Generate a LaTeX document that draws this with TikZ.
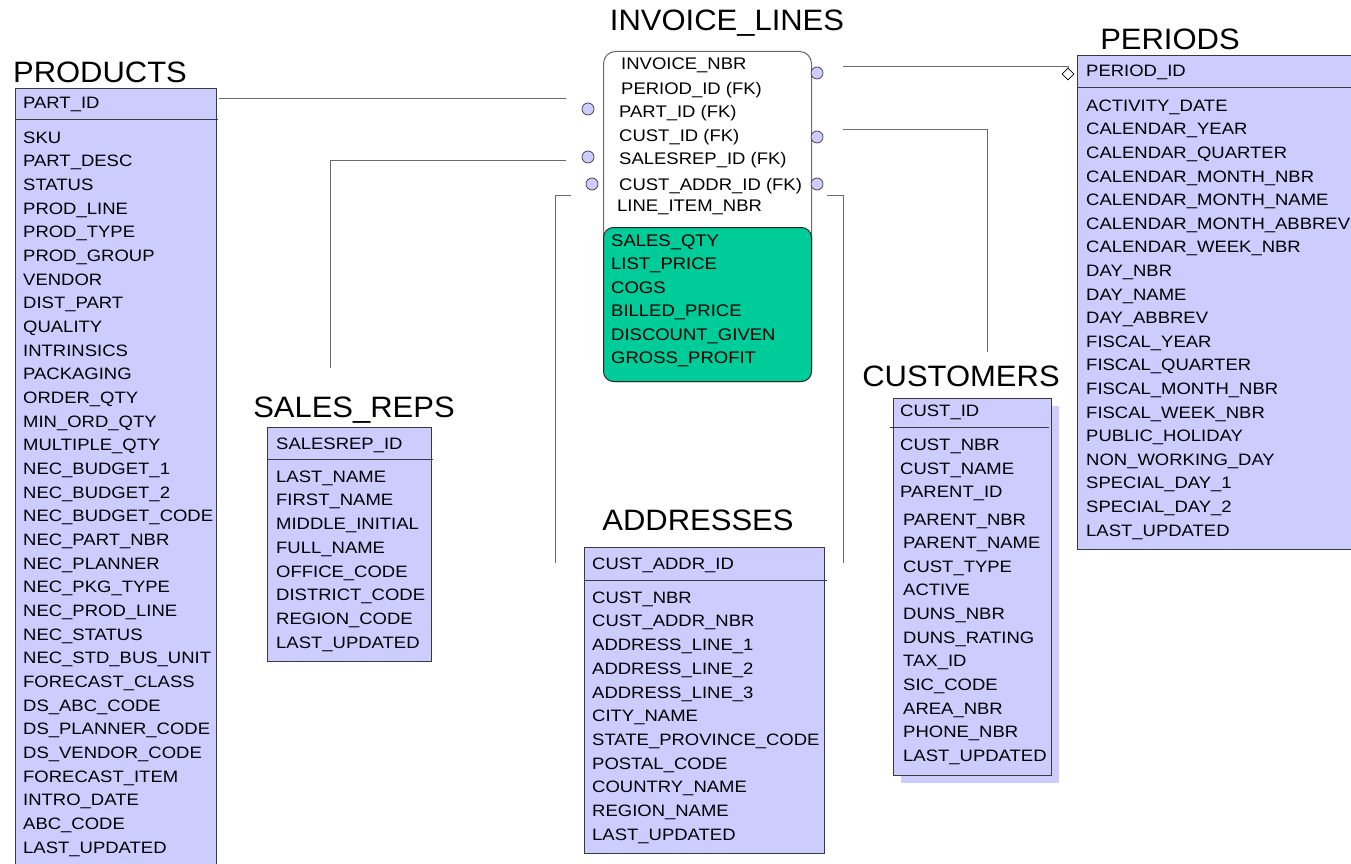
\documentclass[tikz,border=0pt]{standalone}
\usepackage{fontspec}
\setmainfont{Liberation Sans}[FakeStretch=1.12]
\newfontfamily\plainfont{Liberation Sans}[FakeStretch=1.1]
\newfontfamily\titlefont{Liberation Sans}[FakeStretch=1.05]
\usetikzlibrary{shapes.geometric}
\definecolor{lav}{HTML}{CCCCFF}
\definecolor{grn}{HTML}{00CC99}
\definecolor{edge}{HTML}{3A3A3A}
\definecolor{wire}{HTML}{6A6A6A}

\begin{document}
\begin{tikzpicture}[x=1pt,y=-1pt,
  tbl/.style={draw=edge, fill=lav, line width=1pt, rectangle, inner sep=0pt, anchor=north west},
  shadowbox/.style={fill=lav, rectangle, inner sep=0pt, anchor=north west},
  fld/.style={anchor=base west, inner sep=0pt, font=\fontsize{16.5}{20}\selectfont},
  ifld/.style={anchor=base west, inner sep=0pt, font=\plainfont\fontsize{16.8}{20}\selectfont},
  ttl/.style={anchor=base, inner sep=0pt, font=\titlefont\fontsize{29.5}{34}\selectfont},
  sep/.style={draw=edge, line width=1pt},
  wire/.style={draw=wire, line width=1pt},
  port/.style={circle, draw=edge, fill=lav, minimum size=12pt, inner sep=0pt, line width=0.7pt},
  hub/.style={diamond, draw=black, fill=white, minimum width=12pt, minimum height=12pt, inner sep=0pt, line width=0.6pt},
]
\useasboundingbox (0,0) rectangle (1351,864);

% ---------- titles ----------
\node[ttl] (tProducts) at (100,82.5) {PRODUCTS};
\node[ttl] (tInvoice) at (727,31) {INVOICE\_LINES};
\node[ttl] (tPeriods) at (1170,50) {PERIODS};
\node[ttl] (tReps) at (354,417) {SALES\_REPS};
\node[ttl] (tAddr) at (698,530) {ADDRESSES};
\node[ttl] (tCust) at (961,386) {CUSTOMERS};

% ---------- PRODUCTS ----------
\node[tbl, minimum width=201pt, minimum height=785pt] (products) at (15,88) {};
\draw[sep] (15,120) -- (218,120);
\node[fld] (prodKey) at (23,109) {PART\_ID};
\foreach \t [count=\i from 0] in {SKU, PART\_DESC, STATUS, PROD\_LINE, PROD\_TYPE,
  PROD\_GROUP, VENDOR, DIST\_PART, QUALITY, INTRINSICS, PACKAGING, ORDER\_QTY,
  MIN\_ORD\_QTY, MULTIPLE\_QTY, NEC\_BUDGET\_1, NEC\_BUDGET\_2, NEC\_BUDGET\_CODE,
  NEC\_PART\_NBR, NEC\_PLANNER, NEC\_PKG\_TYPE, NEC\_PROD\_LINE, NEC\_STATUS,
  NEC\_STD\_BUS\_UNIT, FORECAST\_CLASS, DS\_ABC\_CODE, DS\_PLANNER\_CODE,
  DS\_VENDOR\_CODE, FORECAST\_ITEM, INTRO\_DATE, ABC\_CODE, LAST\_UPDATED}
  \node[fld] (prod\i) at (23,{143.2+\i*23.67}) {\t};

% ---------- PERIODS ----------
\node[tbl, minimum width=290pt, minimum height=494pt] (periods) at (1077,55) {};
\draw[sep] (1077,88) -- (1360,88);
\node[fld] (perKey) at (1086,77) {PERIOD\_ID};
\foreach \t [count=\i from 0] in {ACTIVITY\_DATE, CALENDAR\_YEAR, CALENDAR\_QUARTER,
  CALENDAR\_MONTH\_NBR, CALENDAR\_MONTH\_NAME, CALENDAR\_MONTH\_ABBREV,
  CALENDAR\_WEEK\_NBR, DAY\_NBR, DAY\_NAME, DAY\_ABBREV, FISCAL\_YEAR,
  FISCAL\_QUARTER, FISCAL\_MONTH\_NBR, FISCAL\_WEEK\_NBR, PUBLIC\_HOLIDAY,
  NON\_WORKING\_DAY, SPECIAL\_DAY\_1, SPECIAL\_DAY\_2, LAST\_UPDATED}
  \node[fld] (per\i) at (1086,{111.2+\i*23.6}) {\t};

% ---------- SALES_REPS ----------
\node[tbl, minimum width=164pt, minimum height=234pt] (reps) at (267,427) {};
\draw[sep] (267,459) -- (433,459);
\node[fld] (repKey) at (276,449) {SALESREP\_ID};
\foreach \t [count=\i from 0] in {LAST\_NAME, FIRST\_NAME, MIDDLE\_INITIAL,
  FULL\_NAME, OFFICE\_CODE, DISTRICT\_CODE, REGION\_CODE, LAST\_UPDATED}
  \node[fld] (rep\i) at (276,{482.2+\i*23.7}) {\t};

% ---------- ADDRESSES ----------
\node[tbl, minimum width=240pt, minimum height=306pt] (addresses) at (584,547) {};
\draw[sep] (584,580) -- (827,580);
\node[fld] (addrKey) at (592,569) {CUST\_ADDR\_ID};
\foreach \t [count=\i from 0] in {CUST\_NBR, CUST\_ADDR\_NBR, ADDRESS\_LINE\_1,
  ADDRESS\_LINE\_2, ADDRESS\_LINE\_3, CITY\_NAME, STATE\_PROVINCE\_CODE,
  POSTAL\_CODE, COUNTRY\_NAME, REGION\_NAME, LAST\_UPDATED}
  \node[fld] (addr\i) at (592,{603.2+\i*23.7}) {\t};

% ---------- CUSTOMERS (with drop shadow) ----------
\node[shadowbox, minimum width=158pt, minimum height=377pt] (custShadow) at (901,406) {};
\node[tbl, minimum width=158pt, minimum height=377pt] (customers) at (893,398) {};
\draw[sep] (890,427) -- (1049,427);
\node[fld] (custKey) at (900,416) {CUST\_ID};
\foreach \t/\x/\y [count=\i from 0] in {CUST\_NBR/900/444, CUST\_NAME/900/468,
  PARENT\_ID/900/491, PARENT\_NBR/903/519, PARENT\_NAME/903/542, CUST\_TYPE/903/566,
  ACTIVE/903/589, DUNS\_NBR/903/613, DUNS\_RATING/903/637, TAX\_ID/903/660,
  SIC\_CODE/903/684, AREA\_NBR/903/708, PHONE\_NBR/903/731, LAST\_UPDATED/903/755}
  \node[fld] (cust\i) at (\x,{\y+6.2}) {\t};

% ---------- INVOICE_LINES ----------
\node[draw=wire, fill=white, line width=1pt, rounded corners=12pt, rectangle,
  inner sep=0pt, anchor=north west, minimum width=208pt, minimum height=330pt]
  (invoice) at (603,51) {};
\node[draw=black!85, fill=grn, line width=1pt, rounded corners=10pt, rectangle,
  inner sep=0pt, anchor=north west, minimum width=208pt, minimum height=154pt]
  (measures) at (603,227) {};
\node[ifld] (inv0) at (621,69.5) {INVOICE\_NBR};
\node[ifld] (inv1) at (621,94.3) {PERIOD\_ID (FK)};
\node[ifld] (inv2) at (619,117.6) {PART\_ID (FK)};
\node[ifld] (inv3) at (619,141) {CUST\_ID (FK)};
\node[ifld] (inv4) at (619,164.3) {SALESREP\_ID (FK)};
\node[ifld] (inv5) at (619,190.3) {CUST\_ADDR\_ID (FK)};
\node[ifld] (inv6) at (617,211.7) {LINE\_ITEM\_NBR};
\foreach \t [count=\i from 0] in {SALES\_QTY, LIST\_PRICE, COGS, BILLED\_PRICE,
  DISCOUNT\_GIVEN, GROSS\_PROFIT}
  \node[ifld] (meas\i) at (611,{246+\i*23.5}) {\t};

% ---------- relationship ports ----------
\node[port] (pPeriod) at (817,73) {};
\node[port] (pPart) at (588,109) {};
\node[port] (pCust) at (817,137) {};
\node[port] (pRep) at (588,157) {};
\node[port] (pAddrL) at (592,184) {};
\node[port] (pAddrR) at (817,184) {};
\node[hub] (hPeriod) at (1068,74) {};

% ---------- connector end points ----------
\coordinate (partA) at (219,99);
\coordinate (partB) at (566,99);
\coordinate (perA) at (843,67);
\coordinate (custA) at (843,130);
\coordinate (custB) at (987,352);
\coordinate (repA) at (566,160);
\coordinate (repB) at (330,368);
\coordinate (addrLA) at (571,195);
\coordinate (addrLB) at (555,563);
\coordinate (addrRA) at (827,195);
\coordinate (addrRB) at (843,563);

% ---------- connectors ----------
\draw[wire] (partA) -- (partB);
\draw[wire] (perA) -| (hPeriod.north);
\draw[wire] (custA) -| (custB);
\draw[wire] (repA) -| (repB);
\draw[wire] (addrLA) -| (addrLB);
\draw[wire] (addrRA) -| (addrRB);
\end{tikzpicture}
\end{document}
